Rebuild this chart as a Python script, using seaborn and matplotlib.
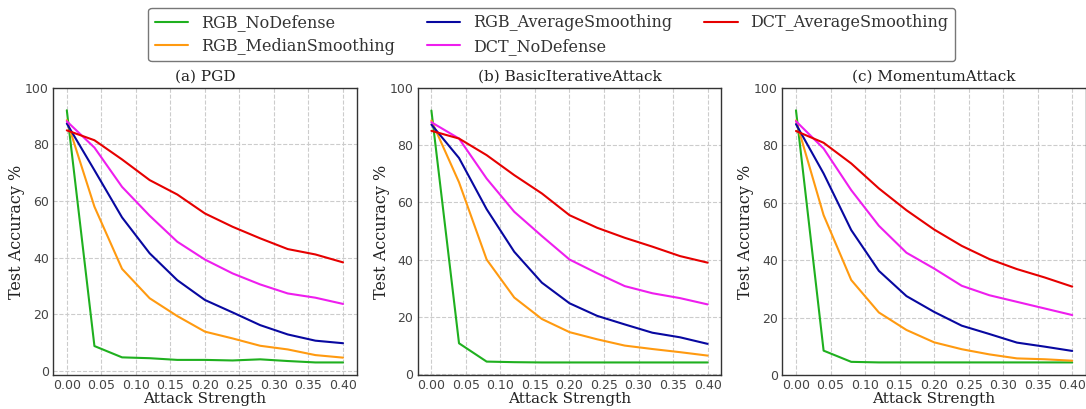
import numpy as np
import pandas as pd
import matplotlib
matplotlib.use("Agg")
import matplotlib.pyplot as plt
import seaborn as sns

# Attack strengths (epsilon) shared by all panels
strengths = [0.00, 0.04, 0.08, 0.12, 0.16, 0.20, 0.24, 0.28, 0.32, 0.36, 0.40]

methods = ["RGB_NoDefense", "RGB_MedianSmoothing", "RGB_AverageSmoothing",
           "DCT_NoDefense", "DCT_AverageSmoothing"]

colors = {
    "RGB_NoDefense": "#1fb01f",
    "RGB_MedianSmoothing": "#ff9a10",
    "RGB_AverageSmoothing": "#0808a0",
    "DCT_NoDefense": "#ee1eee",
    "DCT_AverageSmoothing": "#e60000",
}

# (a) PGD
pgd_rgb_nodef = [92.1, 8.7, 4.7, 4.4, 3.8, 3.8, 3.6, 4.0, 3.4, 2.9, 2.9]
pgd_rgb_median = [88.6, 58.0, 36.0, 25.6, 19.3, 13.8, 11.4, 8.8, 7.5, 5.5, 4.6]
pgd_rgb_avg = [87.4, 70.9, 54.2, 41.5, 32.0, 25.0, 20.6, 16.1, 12.8, 10.6, 9.7]
pgd_dct_nodef = [88.2, 78.9, 65.0, 54.8, 45.6, 39.3, 34.4, 30.5, 27.3, 25.8, 23.6]
pgd_dct_avg = [85.0, 81.5, 74.7, 67.4, 62.3, 55.6, 50.9, 46.8, 43.0, 41.1, 38.3]

# (b) BasicIterativeAttack
bia_rgb_nodef = [92.1, 10.7, 4.3, 4.1, 4.0, 4.0, 4.0, 4.0, 4.0, 4.0, 4.0]
bia_rgb_median = [88.6, 67.0, 40.0, 26.7, 19.2, 14.6, 12.1, 9.9, 8.7, 7.6, 6.4]
bia_rgb_avg = [87.2, 75.5, 57.6, 42.7, 31.9, 24.7, 20.3, 17.3, 14.4, 12.8, 10.5]
bia_dct_nodef = [88.0, 82.3, 68.3, 56.7, 48.2, 40.0, 35.2, 30.7, 28.2, 26.5, 24.3]
bia_dct_avg = [85.0, 82.3, 76.5, 69.5, 63.1, 55.5, 51.1, 47.6, 44.5, 41.2, 38.9]

# (c) MomentumAttack
mom_rgb_nodef = [92.2, 8.5, 4.6, 4.4, 4.4, 4.4, 4.4, 4.4, 4.4, 4.4, 4.4]
mom_rgb_median = [88.7, 55.7, 33.1, 21.8, 15.7, 11.4, 9.0, 7.2, 5.8, 5.5, 5.0]
mom_rgb_avg = [87.4, 70.2, 50.5, 36.3, 27.5, 22.0, 17.2, 14.3, 11.3, 9.9, 8.4]
mom_dct_nodef = [88.4, 78.9, 64.4, 52.0, 42.6, 37.1, 31.1, 27.8, 25.5, 23.2, 20.9]
mom_dct_avg = [85.0, 80.9, 73.7, 65.0, 57.4, 50.7, 45.0, 40.4, 36.9, 34.0, 30.8]

panels = [
    ("(a) PGD", [pgd_rgb_nodef, pgd_rgb_median, pgd_rgb_avg, pgd_dct_nodef, pgd_dct_avg]),
    ("(b) BasicIterativeAttack", [bia_rgb_nodef, bia_rgb_median, bia_rgb_avg, bia_dct_nodef, bia_dct_avg]),
    ("(c) MomentumAttack", [mom_rgb_nodef, mom_rgb_median, mom_rgb_avg, mom_dct_nodef, mom_dct_avg]),
]

xticks = [0.00, 0.05, 0.10, 0.15, 0.20, 0.25, 0.30, 0.35, 0.40]
yticks = [0, 20, 40, 60, 80, 100]

sns.set_theme(style="white")
plt.rcParams["font.family"] = ["DejaVu Sans"]

fig, axes = plt.subplots(1, 3, figsize=(10.86, 4.09), dpi=100)
fig.subplots_adjust(left=0.0488, right=1.0, top=0.785, bottom=0.083, wspace=0.2)

serif = ["DejaVu Serif"]

for ax, (title, series) in zip(axes, panels):
    rows = []
    for name, vals in zip(methods, series):
        for s, v in zip(strengths, vals):
            rows.append({"strength": s, "acc": v, "method": name})
    df = pd.DataFrame(rows)
    sns.lineplot(data=df, x="strength", y="acc", hue="method", hue_order=methods,
                 palette=colors, linewidth=1.5, ax=ax, legend=(ax is axes[0]))
    ax.set_ylim(top=100)
    ax.set_xticks(xticks)
    ax.set_xticklabels([f"{t:.2f}" for t in xticks])
    ax.set_yticks(yticks)
    ax.tick_params(axis="both", length=0, labelsize=9, colors="#444444", pad=3)
    ax.grid(True, linestyle="--", color="#cccccc", linewidth=0.8)
    ax.set_title(title, family=serif, fontsize=11, color="#222222", pad=5)
    ax.set_xlabel("Attack Strength", family=serif, fontsize=11, color="#222222", labelpad=0)
    ax.set_ylabel("Test Accuracy %", family=serif, fontsize=11.5, color="#222222", labelpad=0)
    for side, sp in ax.spines.items():
        sp.set_visible(True)
        sp.set_color("#333333")
        sp.set_linewidth(1.0)

handles, labels = axes[0].get_legend_handles_labels()
axes[0].get_legend().remove()
leg = fig.legend(handles, labels,
                 loc="upper center", bbox_to_anchor=(0.508, 1.0), ncol=3,
                 frameon=True, fancybox=True, prop={"family": "DejaVu Serif", "size": 11.5},
                 handlelength=2.1, handletextpad=0.8, columnspacing=2.0, labelspacing=0.4,
                 borderpad=0.4)
leg.get_frame().set_edgecolor("#555555")
leg.get_frame().set_linewidth(1.0)
for t in leg.get_texts():
    t.set_color("#333333")

fig.savefig("out.png", dpi=100)
